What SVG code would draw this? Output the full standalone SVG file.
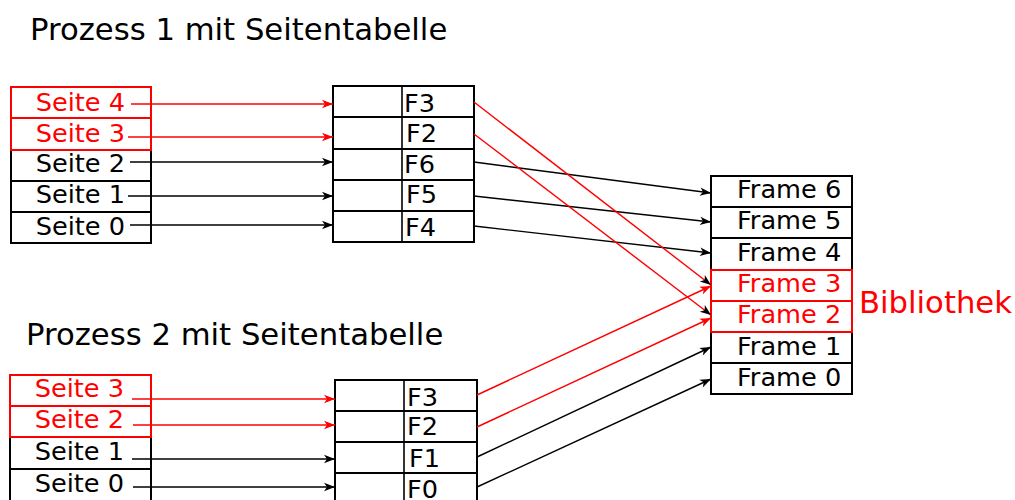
<svg xmlns="http://www.w3.org/2000/svg" width="1015" height="500" viewBox="0 0 1015 500">
<style>
text{font-family:"DejaVu Sans","Liberation Sans",sans-serif;font-size:25.6px;fill:#000}
.title{font-size:30.7px}
.r{fill:#ff0000}
.box{fill:none;stroke:#000;stroke-width:2}
.rbox{fill:none;stroke:#ff0000;stroke-width:2}
.div{stroke:#000;stroke-width:1.6}
.c{fill:none;stroke:#000;stroke-width:1.4}
.cr{fill:none;stroke:#ff0000;stroke-width:1.4}
.end{text-anchor:end}
</style>
<defs>
<marker id="ab" markerUnits="userSpaceOnUse" markerWidth="14" markerHeight="10" refX="12" refY="5" orient="auto" overflow="visible">
<path d="M12,5 L1,0.8 L4,5 L1,9.2 Z" fill="#000"/>
</marker>
<marker id="ar" markerUnits="userSpaceOnUse" markerWidth="14" markerHeight="10" refX="12" refY="5" orient="auto" overflow="visible">
<path d="M12,5 L1,0.8 L4,5 L1,9.2 Z" fill="#ff0000"/>
</marker>
</defs>

<text class="title" x="30" y="40">Prozess 1 mit Seitentabelle</text>
<text class="title" x="26" y="345">Prozess 2 mit Seitentabelle</text>

<g id="p1-pages">
<rect class="box" x="11" y="150" width="140" height="31"/>
<rect class="box" x="11" y="181" width="140" height="31"/>
<rect class="box" x="11" y="212" width="140" height="31"/>
<rect class="rbox" x="11" y="87" width="140" height="31"/>
<rect class="rbox" x="11" y="118" width="140" height="32"/>
<text class="r end" x="125" y="111">Seite 4</text>
<text class="r end" x="125" y="142">Seite 3</text>
<text class="end" x="125" y="172">Seite 2</text>
<text class="end" x="125" y="203">Seite 1</text>
<text class="end" x="125" y="235">Seite 0</text>
</g>

<g id="p1-table">
<rect class="box" x="333" y="86" width="141" height="31"/>
<rect class="box" x="333" y="117" width="141" height="32"/>
<rect class="box" x="333" y="149" width="141" height="31"/>
<rect class="box" x="333" y="180" width="141" height="31"/>
<rect class="box" x="333" y="211" width="141" height="31"/>
<line class="div" x1="402" y1="86" x2="402" y2="242"/>
<text x="404" y="112">F3</text>
<text x="406" y="142">F2</text>
<text x="404" y="173">F6</text>
<text x="406" y="203">F5</text>
<text x="405" y="236">F4</text>
</g>

<g id="p2-pages">
<rect class="box" x="10" y="437" width="141" height="32"/>
<rect class="box" x="10" y="469" width="141" height="32"/>
<rect class="rbox" x="10" y="375" width="141" height="31"/>
<rect class="rbox" x="10" y="406" width="141" height="31"/>
<text class="r end" x="124" y="397">Seite 3</text>
<text class="r end" x="124" y="428">Seite 2</text>
<text class="end" x="124" y="460">Seite 1</text>
<text class="end" x="124" y="492">Seite 0</text>
</g>

<g id="p2-table">
<rect class="box" x="335" y="380" width="142" height="31"/>
<rect class="box" x="335" y="411" width="142" height="31"/>
<rect class="box" x="335" y="442" width="142" height="31"/>
<rect class="box" x="335" y="473" width="142" height="31"/>
<line class="div" x1="404" y1="380" x2="404" y2="504"/>
<text x="407" y="406">F3</text>
<text x="407" y="435">F2</text>
<text x="409" y="467">F1</text>
<text x="407" y="498">F0</text>
</g>

<g id="frames">
<rect class="box" x="711" y="176" width="141" height="31"/>
<rect class="box" x="711" y="207" width="141" height="31"/>
<rect class="box" x="711" y="238" width="141" height="32"/>
<rect class="box" x="711" y="332" width="141" height="31"/>
<rect class="box" x="711" y="363" width="141" height="31"/>
<rect class="rbox" x="711" y="270" width="141" height="31"/>
<rect class="rbox" x="711" y="301" width="141" height="31"/>
<text x="737" y="198">Frame 6</text>
<text x="737" y="229">Frame 5</text>
<text x="737" y="261">Frame 4</text>
<text class="r" x="737" y="292">Frame 3</text>
<text class="r" x="737" y="323">Frame 2</text>
<text x="737" y="355">Frame 1</text>
<text x="737" y="386">Frame 0</text>
</g>

<g id="bibliothek">
<text class="title r" x="859" y="313">Bibliothek</text>
</g>

<g id="connectors">
<line class="cr" x1="131" y1="104" x2="333" y2="104" marker-end="url(#ar)"/>
<line class="cr" x1="128" y1="137" x2="333" y2="137" marker-end="url(#ar)"/>
<line class="c" x1="130" y1="162" x2="333" y2="162" marker-end="url(#ab)"/>
<line class="c" x1="128" y1="196" x2="333" y2="196" marker-end="url(#ab)"/>
<line class="c" x1="130" y1="225" x2="333" y2="225" marker-end="url(#ab)"/>

<line class="cr" x1="132" y1="399" x2="335" y2="399" marker-end="url(#ar)"/>
<line class="cr" x1="133" y1="425" x2="335" y2="425" marker-end="url(#ar)"/>
<line class="c" x1="132" y1="459" x2="335" y2="459" marker-end="url(#ab)"/>
<line class="c" x1="133" y1="487" x2="335" y2="487" marker-end="url(#ab)"/>

<line class="c" x1="474" y1="162" x2="711" y2="193" marker-end="url(#ab)"/>
<line class="c" x1="474" y1="196" x2="711" y2="222" marker-end="url(#ab)"/>
<line class="c" x1="474" y1="226" x2="711" y2="253" marker-end="url(#ab)"/>
<line class="c" x1="477" y1="457" x2="711" y2="347" marker-end="url(#ab)"/>
<line class="c" x1="477" y1="487" x2="711" y2="379" marker-end="url(#ab)"/>

<line class="cr" x1="477" y1="395" x2="711" y2="286" marker-end="url(#ar)"/>
<line class="cr" x1="477" y1="427" x2="711" y2="318" marker-end="url(#ar)"/>
<line class="cr" x1="474" y1="102" x2="711" y2="285" marker-end="url(#ab)"/>
<line class="cr" x1="474" y1="134" x2="711" y2="315" marker-end="url(#ab)"/>
</g>
</svg>
